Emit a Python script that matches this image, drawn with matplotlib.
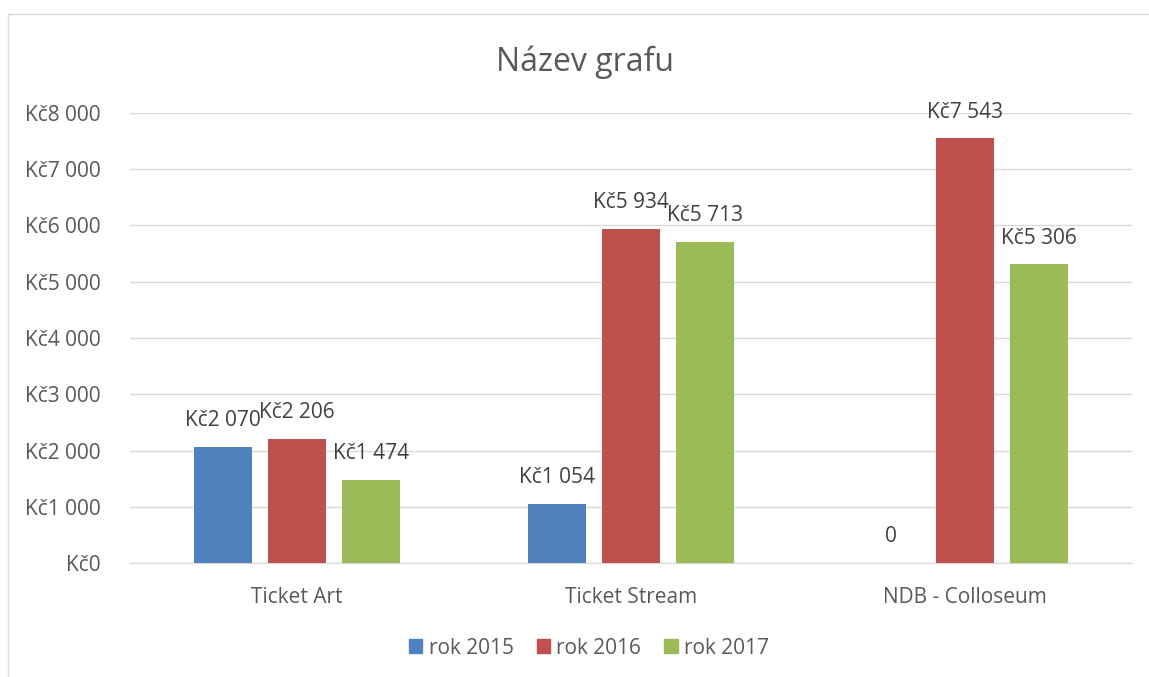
import matplotlib.pyplot as plt
import numpy as np
from matplotlib.lines import Line2D
from matplotlib.patches import Patch

plt.rcParams['font.family'] = ['Open Sans', 'DejaVu Sans']

categories = ['Ticket Art', 'Ticket Stream', 'NDB - Colloseum']
series = ['rok 2015', 'rok 2016', 'rok 2017']
values_2015 = [2070, 1054, 0]
values_2016 = [2206, 5934, 7543]
values_2017 = [1474, 5713, 5306]
colors = ['#4F81BD', '#C0504D', '#9BBB59']
yticks = [0, 1000, 2000, 3000, 4000, 5000, 6000, 7000, 8000]


def fmt(v):
    if v == 0:
        return 'Kč0'
    return 'Kč' + '{:,}'.format(v).replace(',', ' ')


fig = plt.figure(figsize=(11.49, 6.77), dpi=100)
ax = fig.add_axes([0.1131, 0.1679, 0.8721, 0.6656])

# chart border
fig.add_artist(Line2D([8 / 1149, 8 / 1149], [0, 1 - 14 / 677], color='#D9D9D9', lw=1))
fig.add_artist(Line2D([8 / 1149, 1], [1 - 14 / 677, 1 - 14 / 677], color='#D9D9D9', lw=1))

x = np.arange(len(categories))
width = 0.174
step = 0.2216
all_vals = [values_2015, values_2016, values_2017]
for i, vals in enumerate(all_vals):
    pos = x + (i - 1) * step
    ax.bar(pos, vals, width, color=colors[i], zorder=3, label=series[i])
    for p, v in zip(pos, vals):
        lab = '0' if v == 0 else fmt(v)
        ax.annotate(lab, (p, v), xytext=(0, 19), textcoords='offset points',
                    ha='center', va='center', fontsize=15, color='#404040')

ax.set_xlim(-0.5, 2.5)
ax.set_ylim(0, 8000)
ax.set_yticks(yticks)
ax.set_yticklabels([fmt(v) for v in yticks])
ax.set_xticks(x)
ax.set_xticklabels(categories)
ax.yaxis.grid(True, color='#D9D9D9', lw=1, zorder=0)
ax.set_axisbelow(True)
for s in ['top', 'right', 'left']:
    ax.spines[s].set_visible(False)
ax.spines['bottom'].set_color('#D9D9D9')
ax.tick_params(axis='both', length=0, colors='#595959', labelsize=15)
ax.tick_params(axis='y', pad=21)
ax.tick_params(axis='x', pad=17)

fig.text(0.509, 1 - 62 / 677, 'Název grafu', ha='center', va='center',
         fontsize=23, color='#595959')

handles = [Patch(color=c) for c in colors]
fig.legend(handles, series, loc='center', bbox_to_anchor=(0.5126, 1 - 648 / 677),
           ncol=3, frameon=False, fontsize=15, labelcolor='#595959',
           handlelength=0.65, handleheight=0.65, handletextpad=0.3, columnspacing=1.1)

fig.savefig('out.png', dpi=100)
